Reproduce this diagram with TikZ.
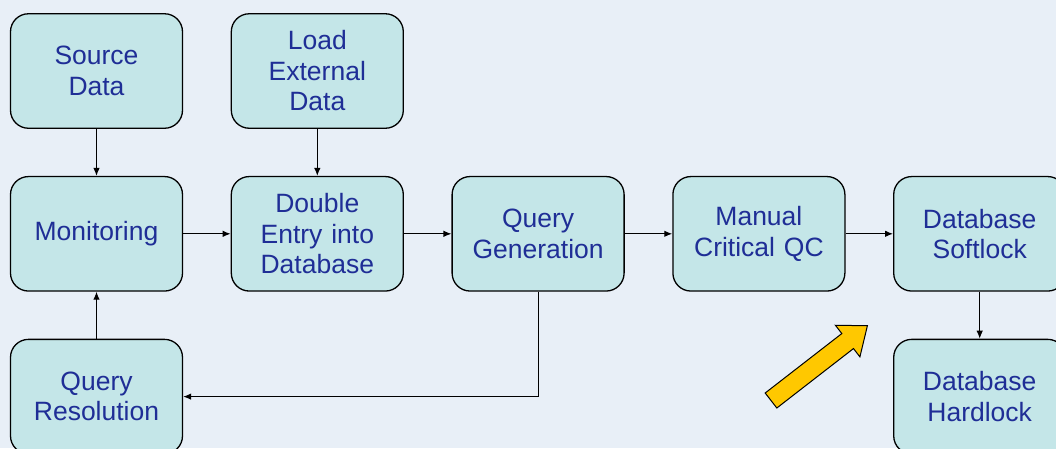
\documentclass[tikz,border=0pt]{standalone}
\usepackage{fontspec}
\setmainfont{Liberation Sans}
\usepackage{xcolor}
\usepackage{tikz}
\usetikzlibrary{positioning, arrows.meta}
\definecolor{backdrop}{RGB}{232,239,247}
\definecolor{boxfill}{RGB}{196,230,232}
\definecolor{boxtext}{RGB}{31,46,150}
\definecolor{pointer}{RGB}{255,200,0}

\begin{document}
\begin{tikzpicture}[
            stage/.style={rectangle, rounded corners=18pt, draw=black, line width=1.3pt, fill=boxfill, text=boxtext, minimum width=172pt, minimum height=114.5pt, text width=165pt, inner sep=0pt, align=center, font=\fontsize{26.5}{30.5}\selectfont},
            flow/.style={-{Latex[length=8pt,width=6.5pt]}, line width=1.1pt},
            node distance=47pt and 47.5pt
        ]
            \useasboundingbox[fill=backdrop] (0,0) rectangle (1056pt,-448pt);

            \node (source) [stage] at (96.5pt,-71pt) {Source\\Data};
            \node (monitor) [stage, below=of source] {Monitoring};
            \node (entry) [stage, right=of monitor] {Double\\Entry into\\Database};
            \node (load) [stage, above=of entry] {Load\\External\\Data};
            \node (querygen) [stage, right=of entry] {Query\\Generation};
            \node (manualqc) [stage, right=of querygen] {Manual\\Critical QC};
            \node (softlock) [stage, right=of manualqc] {Database\\Softlock};
            \node (hardlock) [stage, below=of softlock] {Database\\Hardlock};
            \node (resolution) [stage, below=of monitor] {Query\\Resolution};

            \draw[flow] (source) -- (monitor);
            \draw[flow] (load) -- (entry);
            \draw[flow] (monitor) -- (entry);
            \draw[flow] (entry) -- (querygen);
            \draw[flow] (querygen) -- (manualqc);
            \draw[flow] (manualqc) -- (softlock);
            \draw[flow] (softlock) -- (hardlock);
            \draw[flow] (querygen.south) |- (resolution.east);
            \draw[flow] (resolution) -- (monitor);

            % yellow pointer
            \begin{scope}[shift={(771pt,-400.5pt)}, rotate=37.8]
                \draw[fill=pointer, line width=1pt] (0,-9.5pt) -- (97pt,-9.5pt) -- (97pt,-20pt) -- (122pt,0) -- (97pt,20pt) -- (97pt,9.5pt) -- (0,9.5pt) -- cycle;
            \end{scope}
        \end{tikzpicture}
\end{document}
